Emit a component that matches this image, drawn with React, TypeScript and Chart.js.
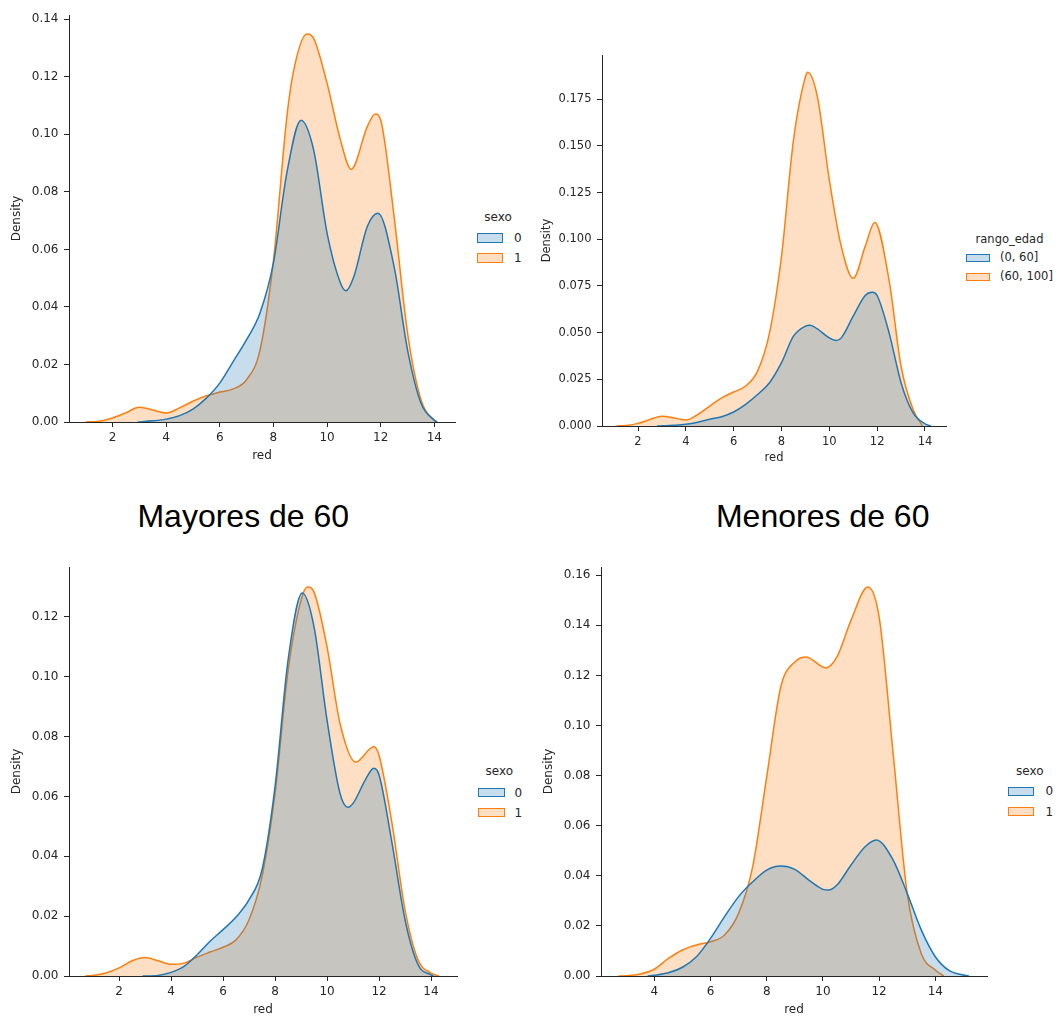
import React, { useEffect, useRef } from "react";
import { Chart, registerables } from "chart.js";

Chart.register(...registerables);

// ---------------- data ----------------
const xTicksWide = [2, 4, 6, 8, 10, 12, 14];
const xTicksNarrow = [4, 6, 8, 10, 12, 14];
const yTicksA = [0, 0.02, 0.04, 0.06, 0.08, 0.1, 0.12, 0.14];
const yTicksB = [0, 0.025, 0.05, 0.075, 0.1, 0.125, 0.15, 0.175];
const yTicksC = [0, 0.02, 0.04, 0.06, 0.08, 0.1, 0.12];
const yTicksD = [0, 0.02, 0.04, 0.06, 0.08, 0.1, 0.12, 0.14, 0.16];

const sexoLabels = ["0", "1"];
const rangoLabels = ["(0, 60]", "(60, 100]"];
const panelTitles = ["Mayores de 60", "Menores de 60"];

// Panel 1 (top-left): hue = sexo
const p1Sexo0X = [2.94, 3.5, 4, 4.5, 5, 5.5, 6, 6.5, 7, 7.5, 8, 8.5, 9.03, 9.5, 10, 10.5, 10.7, 11, 11.5, 11.9, 12.5, 13, 13.5, 14, 14.1];
const p1Sexo0Y = [0, 0.0004, 0.001, 0.0022, 0.0045, 0.0083, 0.0135, 0.021, 0.0286, 0.0379, 0.0552, 0.0865, 0.1049, 0.0946, 0.0657, 0.0483, 0.0456, 0.0506, 0.068, 0.0726, 0.054, 0.0251, 0.0066, 0.0006, 0];
const p1Sexo1X = [1.0, 1.5, 2, 2.5, 3, 3.5, 4, 4.5, 5, 5.5, 6, 6.5, 7, 7.5, 8, 8.5, 8.75, 9.25, 9.5, 10, 10.5, 10.9, 11.5, 11.8, 12, 12.5, 13, 13.5, 14, 14.1];
const p1Sexo1Y = [0, 0.0003, 0.0014, 0.0032, 0.0051, 0.0042, 0.0031, 0.0049, 0.0072, 0.0091, 0.0104, 0.0115, 0.0147, 0.025, 0.056, 0.106, 0.122, 0.1349, 0.1334, 0.1178, 0.098, 0.0879, 0.1027, 0.1071, 0.105, 0.0714, 0.031, 0.0078, 0.0006, 0];

// Panel 2 (top-right): hue = rango_edad
const p2YoungX = [2.8, 3.5, 4, 4.5, 5, 5.5, 6, 6.5, 7, 7.5, 8, 8.5, 9, 9.2, 9.5, 10, 10.3, 10.5, 11, 11.5, 11.8, 12, 12.5, 13, 13.5, 14, 14.25];
const p2YoungY = [0, 0.0004, 0.0009, 0.002, 0.0036, 0.005, 0.0075, 0.0116, 0.0169, 0.0232, 0.0339, 0.0481, 0.0535, 0.054, 0.052, 0.0472, 0.0458, 0.0472, 0.0588, 0.0699, 0.0716, 0.0699, 0.0499, 0.0232, 0.0071, 0.0011, 0];
const p2OldX = [1.1, 1.5, 2, 2.5, 3, 3.5, 4, 4.5, 5, 5.5, 6, 6.5, 7, 7.5, 8, 8.5, 9, 9.1, 9.5, 10, 10.5, 11, 11.5, 11.9, 12.5, 13, 13.5, 13.9];
const p2OldY = [0, 0.0003, 0.0014, 0.0035, 0.0052, 0.0043, 0.0032, 0.0062, 0.0107, 0.0151, 0.0182, 0.0214, 0.0294, 0.0499, 0.0909, 0.153, 0.187, 0.1894, 0.1764, 0.1319, 0.0962, 0.0791, 0.0962, 0.109, 0.078, 0.032, 0.0089, 0];

// Panel 3 (bottom-left, Mayores de 60): hue = sexo
const p3Sexo0X = [2.9, 3.5, 4, 4.5, 5, 5.5, 6, 6.5, 7, 7.5, 8, 8.5, 9.05, 9.5, 10, 10.5, 10.8, 11, 11.5, 11.8, 12, 12.5, 13, 13.5, 14, 14.1];
const p3Sexo0Y = [0, 0.0002, 0.0012, 0.0032, 0.0071, 0.0116, 0.0155, 0.0197, 0.0255, 0.0355, 0.0633, 0.1055, 0.128, 0.1167, 0.0855, 0.061, 0.0564, 0.0577, 0.066, 0.0694, 0.0672, 0.0444, 0.0188, 0.0038, 0.0004, 0];
const p3Sexo1X = [0.7, 1, 1.5, 2, 2.5, 3, 3.5, 4, 4.5, 5, 5.5, 6, 6.5, 7, 7.5, 8, 8.5, 9, 9.25, 9.5, 10, 10.5, 11.1, 11.8, 12, 12.5, 13, 13.5, 14, 14.3];
const p3Sexo1Y = [0, 0.0002, 0.001, 0.0027, 0.0051, 0.0062, 0.0051, 0.0039, 0.0043, 0.0063, 0.008, 0.0096, 0.0121, 0.0188, 0.0333, 0.061, 0.102, 0.1256, 0.13, 0.1283, 0.11, 0.0844, 0.0715, 0.0766, 0.0738, 0.051, 0.0221, 0.0054, 0.001, 0];

// Panel 4 (bottom-right, Menores de 60): hue = sexo
const p4Sexo0X = [3.76, 4, 4.5, 5, 5.5, 6, 6.5, 7, 7.5, 8, 8.5, 9, 9.5, 10, 10.2, 10.5, 11, 11.5, 11.9, 12.5, 13, 13.5, 14, 14.5, 15, 15.2];
const p4Sexo0Y = [0, 0.0003, 0.0013, 0.0035, 0.0077, 0.015, 0.0237, 0.0317, 0.0376, 0.0423, 0.0439, 0.0426, 0.0383, 0.0346, 0.0343, 0.0363, 0.0443, 0.0516, 0.0543, 0.0463, 0.033, 0.0184, 0.0077, 0.0021, 0.0004, 0];
const p4Sexo1X = [2.72, 3, 3.5, 4, 4.5, 5, 5.5, 6, 6.5, 7, 7.5, 8, 8.5, 9, 9.4, 10.1, 10.5, 11, 11.6, 12, 12.5, 13, 13.5, 14, 14.3];
const p4Sexo1Y = [0, 0.0001, 0.0008, 0.0027, 0.007, 0.0104, 0.0124, 0.0137, 0.0164, 0.025, 0.0436, 0.0795, 0.1154, 0.1254, 0.1274, 0.123, 0.1274, 0.142, 0.1553, 0.1434, 0.0888, 0.033, 0.009, 0.0024, 0];

// ---------------- styles ----------------
const BLUE = "#1f77b4";
const ORANGE = "#ff7f0e";
const BLUE_FILL = "rgba(31,119,180,0.25)";
const ORANGE_FILL = "rgba(255,127,14,0.25)";
const INK = "#262626";
const FONT = "'DejaVu Sans', sans-serif";

const pts = (xs: number[], ys: number[]) => xs.map((x, i) => ({ x, y: ys[i] }));

type PanelCfg = {
  left: number; top: number; width: number; height: number;
  axisLeft: number; axisTop: number; axisRight: number; axisBottom: number;
  xMin: number; xMax: number; yMax: number;
  xTicks: number[]; yTicks: number[]; yDec: number;
  fontSize: number; xTitlePad: number; yTitlePad: number;
  seriesA: { x: number[]; y: number[]; label: string };
  seriesB: { x: number[]; y: number[]; label: string };
};

function KdePanel({ cfg }: { cfg: PanelCfg }) {
  const ref = useRef<HTMLCanvasElement | null>(null);
  useEffect(() => {
    if (!ref.current) return;
    const yW = cfg.axisLeft - cfg.left;
    const xH = cfg.top + cfg.height - cfg.axisBottom;
    const padTop = cfg.axisTop - cfg.top;
    const padRight = cfg.left + cfg.width - cfg.axisRight;
    const font = { family: FONT, size: cfg.fontSize };
    const chart = new Chart(ref.current, {
      type: "line",
      data: {
        datasets: [
          {
            label: cfg.seriesA.label,
            data: pts(cfg.seriesA.x, cfg.seriesA.y),
            borderColor: BLUE,
            backgroundColor: BLUE_FILL,
            fill: "origin",
            borderWidth: 1.5,
            pointRadius: 0,
            cubicInterpolationMode: "monotone",
          },
          {
            label: cfg.seriesB.label,
            data: pts(cfg.seriesB.x, cfg.seriesB.y),
            borderColor: ORANGE,
            backgroundColor: ORANGE_FILL,
            fill: "origin",
            borderWidth: 1.5,
            pointRadius: 0,
            cubicInterpolationMode: "monotone",
          },
        ],
      },
      options: {
        responsive: false,
        animation: false,
        events: [],
        layout: { padding: { left: 0, top: padTop, right: padRight, bottom: 0 } },
        plugins: { legend: { display: false }, tooltip: { enabled: false } },
        scales: {
          x: {
            type: "linear",
            min: cfg.xMin,
            max: cfg.xMax,
            afterFit: (s: any) => { s.height = xH; },
            afterBuildTicks: (s: any) => { s.ticks = cfg.xTicks.map((v) => ({ value: v })); },
            ticks: { padding: 4, color: INK, font, callback: (v: any) => String(v) },
            grid: { drawOnChartArea: false, drawTicks: true, tickLength: 5, tickColor: INK, tickWidth: 1 },
            border: { display: true, color: INK, width: 1 },
            title: { display: true, text: "red", color: INK, font, padding: { top: 0, bottom: cfg.xTitlePad } },
          },
          y: {
            type: "linear",
            min: 0,
            max: cfg.yMax,
            afterFit: (s: any) => { s.width = yW; },
            afterBuildTicks: (s: any) => { s.ticks = cfg.yTicks.map((v) => ({ value: v })); },
            ticks: { padding: 5.5, color: INK, font, callback: (v: any) => Number(v).toFixed(cfg.yDec) },
            grid: { drawOnChartArea: false, drawTicks: true, tickLength: 5, tickColor: INK, tickWidth: 1 },
            border: { display: true, color: INK, width: 1 },
            title: { display: true, text: "Density", color: INK, font, padding: { top: cfg.yTitlePad, bottom: 0 } },
          },
        },
      },
    } as any);
    return () => chart.destroy();
  }, []);
  return (
    <canvas
      ref={ref}
      width={cfg.width}
      height={cfg.height}
      style={{ position: "absolute", left: cfg.left, top: cfg.top, width: cfg.width, height: cfg.height }}
    />
  );
}

type LegendCfg = {
  title: string; labels: string[]; fontSize: number;
  titleCx: number; titleCy: number;
  boxLeft: number; boxW: number; boxH: number; rowCy: number[]; labelLeft: number;
};

function Legend({ cfg }: { cfg: LegendCfg }) {
  const colors = [[BLUE, BLUE_FILL], [ORANGE, ORANGE_FILL]];
  const txt: React.CSSProperties = {
    position: "absolute", fontFamily: FONT, fontSize: cfg.fontSize, lineHeight: "1", color: INK, whiteSpace: "nowrap",
  };
  return (
    <>
      <div style={{ ...txt, left: cfg.titleCx, top: cfg.titleCy, transform: "translate(-50%, -56%)" }}>{cfg.title}</div>
      {cfg.labels.map((lab, i) => (
        <React.Fragment key={lab}>
          <div
            style={{
              position: "absolute", boxSizing: "border-box",
              left: cfg.boxLeft, top: cfg.rowCy[i] - cfg.boxH / 2, width: cfg.boxW, height: cfg.boxH,
              border: `1.5px solid ${colors[i][0]}`, background: colors[i][1],
            }}
          />
          <div style={{ ...txt, left: cfg.labelLeft, top: cfg.rowCy[i], transform: "translateY(-50%)" }}>{lab}</div>
        </React.Fragment>
      ))}
    </>
  );
}

const panels: PanelCfg[] = [
  {
    left: 0, top: 0, width: 470, height: 470,
    axisLeft: 69, axisTop: 15, axisRight: 455, axisBottom: 422,
    xMin: 0.38, xMax: 14.77, yMax: 0.1415, xTicks: xTicksWide, yTicks: yTicksA, yDec: 2,
    fontSize: 12, xTitlePad: 7, yTitlePad: 9.3,
    seriesA: { x: p1Sexo0X, y: p1Sexo0Y, label: sexoLabels[0] },
    seriesB: { x: p1Sexo1X, y: p1Sexo1Y, label: sexoLabels[1] },
  },
  {
    left: 530, top: 40, width: 430, height: 440,
    axisLeft: 602, axisTop: 55, axisRight: 946, axisBottom: 426,
    xMin: 0.494, xMax: 14.88, yMax: 0.1987, xTicks: xTicksWide, yTicks: yTicksB, yDec: 3,
    fontSize: 11.5, xTitlePad: 14.8, yTitlePad: 9.8,
    seriesA: { x: p2YoungX, y: p2YoungY, label: rangoLabels[0] },
    seriesB: { x: p2OldX, y: p2OldY, label: rangoLabels[1] },
  },
  {
    left: 0, top: 550, width: 470, height: 467,
    axisLeft: 69, axisTop: 567, axisRight: 457, axisBottom: 976,
    xMin: 0.073, xMax: 15.0, yMax: 0.1367, xTicks: xTicksWide, yTicks: yTicksC, yDec: 2,
    fontSize: 12, xTitlePad: 0, yTitlePad: 9.3,
    seriesA: { x: p3Sexo0X, y: p3Sexo0Y, label: sexoLabels[0] },
    seriesB: { x: p3Sexo1X, y: p3Sexo1Y, label: sexoLabels[1] },
  },
  {
    left: 530, top: 550, width: 470, height: 467,
    axisLeft: 601, axisTop: 567, axisRight: 987, axisBottom: 976,
    xMin: 2.103, xMax: 15.84, yMax: 0.1633, xTicks: xTicksNarrow, yTicks: yTicksD, yDec: 2,
    fontSize: 12, xTitlePad: 0, yTitlePad: 11.2,
    seriesA: { x: p4Sexo0X, y: p4Sexo0Y, label: sexoLabels[0] },
    seriesB: { x: p4Sexo1X, y: p4Sexo1Y, label: sexoLabels[1] },
  },
];

const legends: LegendCfg[] = [
  { title: "sexo", labels: sexoLabels, fontSize: 12, titleCx: 498, titleCy: 218, boxLeft: 477, boxW: 26, boxH: 10, rowCy: [237.7, 257.8], labelLeft: 514 },
  { title: "rango_edad", labels: rangoLabels, fontSize: 11.5, titleCx: 1009.5, titleCy: 240, boxLeft: 966, boxW: 24, boxH: 8, rowCy: [258.3, 276.7], labelLeft: 1000 },
  { title: "sexo", labels: sexoLabels, fontSize: 12, titleCx: 499.3, titleCy: 771.7, boxLeft: 477.6, boxW: 27, boxH: 9.6, rowCy: [792.5, 812.5], labelLeft: 514.5 },
  { title: "sexo", labels: sexoLabels, fontSize: 12, titleCx: 1029.8, titleCy: 772.3, boxLeft: 1008, boxW: 26, boxH: 9.3, rowCy: [791.3, 811.8], labelLeft: 1045.5 },
];

export default function App() {
  const titleStyle: React.CSSProperties = {
    position: "absolute", top: 500.2, fontFamily: "'Liberation Sans', Arial, sans-serif", fontSize: 32,
    lineHeight: "1", color: "#000", whiteSpace: "nowrap", transform: "translateX(-50%)",
  };
  return (
    <div style={{ position: "absolute", left: 0, top: 0, width: 1056, height: 1017, background: "#fff", overflow: "hidden" }}>
      {panels.map((p, i) => <KdePanel key={i} cfg={p} />)}
      {legends.map((l, i) => <Legend key={i} cfg={l} />)}
      <div style={{ ...titleStyle, left: 243.3 }}>{panelTitles[0]}</div>
      <div style={{ ...titleStyle, left: 822.7 }}>{panelTitles[1]}</div>
    </div>
  );
}
